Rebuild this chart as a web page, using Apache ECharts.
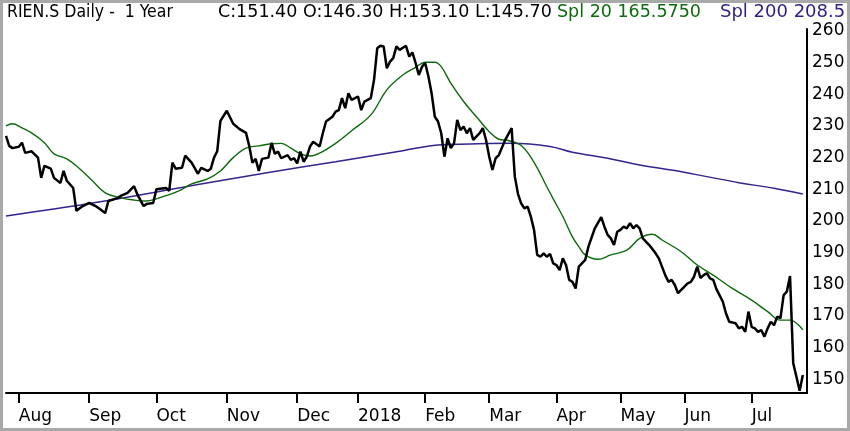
<html>
<head>
    <meta charset="utf-8">
    <script src="https://cdn.jsdelivr.net/npm/echarts@6.0.0/dist/echarts.min.js"></script>
    <style>
        html, body { margin: 0; padding: 0; background: #fff; }
        #main { width: 850px; height: 431px; }
    </style>
</head>
<body>
    <div id="main"></div>
    <script>
        // x = trading day index (0 = first bar of the year window)
        var monthIdx = [4, 26, 47, 69, 91, 110, 131, 151, 172, 192, 212, 233];
        var monthLabels = ['Aug', 'Sep', 'Oct', 'Nov', 'Dec', '2018', 'Feb', 'Mar', 'Apr', 'May', 'Jun', 'Jul'];
        var priceTicks = [150, 160, 170, 180, 190, 200, 210, 220, 230, 240, 250, 260];

        var closeIdx = [0, 1, 2, 4, 5, 6, 8, 10, 11, 12, 14, 15, 17, 18, 19, 21, 22, 24, 26, 28, 29, 31, 32, 35, 36, 38,
            40, 41, 43, 44, 46, 47, 50, 51, 52, 53, 55, 56, 58, 60, 61, 63, 64, 65, 66, 67, 69, 71, 73, 75, 76, 77, 78, 79,
            80, 82, 83, 84, 85, 86, 88, 89, 90, 91, 92, 93, 94, 95, 96, 98, 99, 100, 102, 103, 104, 105, 106, 107, 108,
            110, 111, 112, 114, 115, 116, 117, 118, 119, 120, 121, 122, 123, 125, 126, 127, 128, 129, 130, 131, 132, 133,
            134, 135, 136, 137, 138, 139, 140, 141, 142, 143, 144, 145, 146, 148, 149, 150, 151, 152, 153, 154, 156, 158,
            159, 160, 161, 162, 163, 164, 165, 166, 167, 168, 169, 170, 171, 172, 173, 174, 175, 176, 177, 178, 179, 181,
            182, 184, 186, 187, 188, 189, 190, 191, 192, 193, 194, 195, 196, 197, 198, 199, 201, 203, 204, 206, 207, 208,
            209, 210, 212, 213, 214, 215, 216, 217, 218, 219, 220, 221, 222, 224, 225, 226, 228, 229, 230, 231, 232, 233,
            234, 235, 236, 237, 238, 239, 240, 241, 242, 243, 244, 245, 246, 247, 248, 249];
        var closeVal = [226.9, 223.7, 223.0, 223.4, 224.7, 221.5, 222.0, 220.0, 213.6, 217.4, 216.5, 213.6, 212.0, 215.8,
            212.7, 210.4, 203.2, 204.7, 205.7, 204.7, 204.0, 202.5, 206.3, 207.3, 208.0, 208.9,
            211.0, 208.5, 204.7, 205.4, 205.7, 210.0, 210.4, 209.5, 218.4, 216.5, 216.8, 220.6, 218.4, 214.9, 216.8, 215.8,
            216.5, 220.0, 222.0, 231.6, 234.8, 230.7, 229.0, 227.8, 223.7, 218.4, 219.6, 215.8,
            219.6, 220.0, 224.7, 221.2, 221.9, 219.8, 220.8, 219.3, 219.8, 218.2, 221.9, 218.7, 220.3, 223.5, 225.0, 223.5,
            227.7, 231.4, 232.9, 234.5, 235.0, 238.8, 235.6, 240.3, 238.2,
            239.3, 235.0, 237.7, 238.8, 244.5, 254.5, 255.3, 255.1, 248.2, 250.3, 251.4, 255.1, 254.0, 255.3, 251.9, 253.2,
            249.8, 246.1, 248.7, 249.8, 245.6, 240.3,
            232.9, 231.4, 227.7, 220.3, 226.1, 223.0, 224.5, 231.9, 228.7, 229.8, 227.7, 229.3, 225.6, 227.7, 229.3, 225.6,
            220.3, 216.1, 219.8, 220.8, 225.6, 229.3,
            214.0, 208.5, 205.5, 204.0, 204.5, 201.4, 197.2, 189.3, 188.7, 189.8, 188.7, 189.6, 186.6, 186.1, 184.5, 188.2,
            186.1, 181.4, 180.8, 178.7, 185.6, 187.7,
            191.9, 197.7, 201.2, 198.2, 195.6, 194.5, 192.4, 196.6, 197.2, 198.2, 197.7, 199.3, 197.7, 198.7, 197.7, 194.5,
            192.4, 189.8, 188.2, 182.9, 180.8, 181.4,
            179.8, 177.2, 179.3, 180.3, 180.8, 182.4, 185.6, 182.0, 182.9, 183.5, 181.9, 181.4, 178.5, 174.5, 170.8, 168.2,
            167.7, 166.1, 166.6, 165.0, 171.4, 166.6,
            166.1, 165.0, 165.6, 163.5, 166.1, 168.2, 167.1, 169.8, 169.3, 176.6, 177.7, 182.6, 155.1, 150.8, 146.4, 151.4];

        var sma20Idx = [0, 2, 5, 8, 12, 15, 19, 23, 27, 31, 36, 40, 44, 47, 50, 54, 58, 63, 67, 71, 75, 79, 83, 86, 89, 92,
            95, 98, 103, 108, 114, 119, 124, 128, 131, 134, 136, 139, 143, 147, 151, 154, 157, 161, 165, 169, 171, 174,
            177, 179, 181, 185, 189, 194, 198, 202, 205, 211, 216, 221, 227, 233, 238, 242, 245, 249];
        var sma20Val = [230.0, 230.7, 229.4, 227.8, 224.7, 221.2, 219.6, 216.5, 212.7, 208.9, 207.3, 206.6, 206.3, 207.0,
            208.0, 209.5, 211.7, 213.3, 215.8, 220.0, 223.0, 223.7, 224.4, 224.5, 223.0, 221.2,
            220.5, 221.4, 224.5, 228.5, 233.5, 241.4, 246.1, 248.5, 250.1, 250.1, 248.7, 243.5, 237.7, 232.9, 228.2, 225.8,
            225.4, 223.8, 218.5, 210.8, 207.0, 201.4,
            195.0, 191.9, 189.3, 187.9, 189.3, 190.8, 194.5, 195.8, 194.0, 190.3, 186.1, 182.9, 178.7, 175.0, 171.4, 168.7,
            168.7, 165.6];

        var sma200Idx = [0, 29, 60, 82, 103, 124, 135, 145, 158, 170, 177, 188, 198, 209, 219, 229, 240, 249];
        var sma200Val = [201.6, 206.0, 211.5, 215.3, 218.7, 222.2, 224.0, 224.3, 224.5, 223.5, 221.7, 219.8, 217.7, 215.9,
            214.0, 212.1, 210.3, 208.5];

        function zip(xs, ys) {
            var out = [];
            for (var i = 0; i < xs.length; i++) {
                out.push([xs[i], ys[i]]);
            }
            return out;
        }

        var chart = echarts.init(document.getElementById('main'));
        var numFont = '17.5px "DejaVu Sans"';

        var option = {
            animation: false,
            backgroundColor: '#fff',
            grid: { left: 6, right: 43, top: 29, bottom: 38, containLabel: false, outerBoundsMode: 'none' },
            xAxis: {
                type: 'value',
                min: 0,
                max: 250.3,
                axisLine: { show: true, onZero: false, lineStyle: { color: '#000', width: 2 } },
                axisTick: { show: true, customValues: monthIdx, length: 10, lineStyle: { color: '#000', width: 2 } },
                axisLabel: {
                    customValues: monthIdx,
                    align: 'left',
                    margin: 15,
                    color: '#000',
                    fontFamily: 'DejaVu Sans',
                    fontSize: 17,
                    formatter: function (v) {
                        var i = monthIdx.indexOf(v);
                        return i >= 0 ? monthLabels[i] : '';
                    }
                },
                splitLine: { show: false }
            },
            yAxis: {
                type: 'value',
                position: 'right',
                min: 145.7,
                max: 260.6,
                axisLine: { show: true, onZero: false, lineStyle: { color: '#000', width: 2 } },
                axisTick: { show: false },
                axisLabel: {
                    customValues: priceTicks,
                    margin: 5,
                    color: '#000',
                    fontFamily: 'DejaVu Sans',
                    fontSize: 17
                },
                splitLine: { show: false }
            },
            series: [
                {
                    name: 'Spl 200',
                    type: 'line',
                    data: zip(sma200Idx, sma200Val),
                    showSymbol: false,
                    smooth: 0.4,
                    lineStyle: { color: '#33248f', width: 1.5 },
                    z: 2
                },
                {
                    name: 'Spl 20',
                    type: 'line',
                    data: zip(sma20Idx, sma20Val),
                    showSymbol: false,
                    smooth: 0.4,
                    lineStyle: { color: '#0c6a0c', width: 1.4 },
                    z: 3
                },
                {
                    name: 'RIEN.S',
                    type: 'line',
                    data: zip(closeIdx, closeVal),
                    showSymbol: false,
                    lineStyle: { color: '#000', width: 2.5 },
                    z: 4
                }
            ],
            graphic: [
                {
                    type: 'rect',
                    silent: true,
                    shape: { x: 1.5, y: 1.5, width: 847, height: 428 },
                    style: { fill: 'none', stroke: '#a9a9a9', lineWidth: 3 }
                },
                {
                    type: 'text', x: 7, y: 12, silent: true,
                    style: { text: 'RIEN.S Daily -  1 Year', font: '17.5px "DejaVu Sans Condensed"', fill: '#000', verticalAlign: 'middle' }
                },
                {
                    type: 'text', x: 218, y: 12, silent: true,
                    style: { text: 'C:151.40 O:146.30 H:153.10 L:145.70', font: numFont, fill: '#000', verticalAlign: 'middle' }
                },
                {
                    type: 'text', x: 557, y: 12, silent: true,
                    style: { text: 'Spl 20 165.5750', font: numFont, fill: '#0c6a0c', verticalAlign: 'middle' }
                },
                {
                    type: 'text', x: 720, y: 12, silent: true,
                    style: { text: 'Spl 200 208.5', font: '18px "DejaVu Sans"', fill: '#2e1f86', verticalAlign: 'middle' }
                }
            ]
        };

        chart.setOption(option);

        window.onresize = function () {
            chart.resize();
        };
    </script>
</body>
</html>
